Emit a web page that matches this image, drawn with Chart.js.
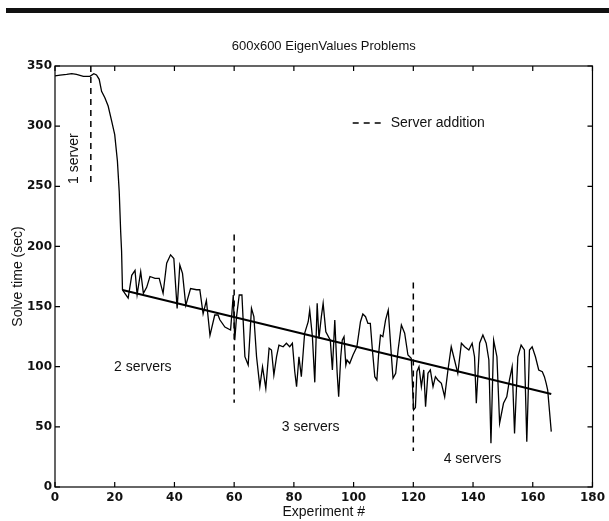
<!DOCTYPE html>
<html><head><meta charset="utf-8">
<script src="https://cdn.jsdelivr.net/npm/chart.js@4.4.1/dist/chart.umd.min.js"></script>
<style>
html,body{margin:0;padding:0;background:#fff;}
#wrap{position:relative;width:609px;height:521px;}
#bar{position:absolute;left:6px;right:0;top:8px;height:5px;background:#111;}
canvas{position:absolute;left:0;top:0;}
</style>
</head><body>
<div id="wrap"><canvas id="c" width="609" height="521"></canvas><div id="bar"></div></div>
<script>
// Experiment number and solve time (sec)
const expX = [0,1.7,3.9,5.6,7.2,9.5,11.7,13,13.9,14.8,15.6,16.7,17.8,19,20,20.9,21.5,22,22.3,22.6,23.4,24.5,25.7,26.8,27.5,28.7,29.6,30.7,31.8,33.5,34.9,36.2,37.4,38.7,39.8,40.9,41.8,42.7,43.8,45.4,47.4,48.5,49.6,50.7,51.9,53.5,54.6,55.2,56.9,58.8,59.7,60.2,60.8,61.7,62.6,63.6,64.7,65.8,66.6,67.5,68.6,69.5,70.6,71.7,72.5,73.3,74.2,75,76.4,77.5,78.6,79.5,80.3,80.9,81.7,82.5,83.6,84.8,85.3,86.2,87,87.8,88.4,89.2,89.8,90.7,92.2,92.9,93.7,94.5,95,95.7,96.2,96.8,97.4,97.8,98.7,99.8,101.1,102.3,103.1,104,104.8,105.6,106.3,107.1,107.8,108.4,109,109.8,110.7,111.6,112.6,113.2,114.1,114.9,116,117.1,118.2,119.3,120.1,120.7,121.2,121.9,122.7,123.5,124.1,124.9,125.7,126.6,127.4,128.2,129.4,130.5,131.6,132.7,133.8,134.9,136.1,137.2,138.6,139.7,140.5,141.1,142.2,143.3,144.4,145.3,146,146.9,148,148.9,150.2,151.3,152.2,153.1,153.9,155,156.1,157.2,158,158.9,159.8,160.9,162,163.2,163.9,164.5,165,166.2];
const solveTime = [341.7,342.5,343,343.6,343,341.4,341.4,343.6,342.5,338.9,329,323.6,316.7,304,293,271,246,212,196,164,161,157,176,180,160,179,161,166,175,173.5,173.5,161,186,193,190,148.5,184.5,177.6,151,165,164,164,144,155,126,143,143,139,133,130.5,159.6,122,141.6,159.6,159.6,108.3,101.4,148.5,141.6,108.3,83.4,100,82,115.3,113.9,93,108.3,118,116.6,119.5,116.6,119.5,95.8,83.4,108.3,91.7,127.8,137.4,147,125,87,152.7,123.6,141.6,152.7,129,122,97.3,138.8,94.5,75,108.3,122,125,101.4,105.6,102.8,109.7,116.6,137.4,143.8,141.6,136,136,113.9,91.7,89,111,126.3,125,138.8,147,111,90.4,94.5,113.9,134.7,127.8,109.7,107,64,66,95.8,100,83.4,97.3,66.7,94.5,97.3,83.4,91.7,89,86.2,75,97.3,116.6,105.6,94.5,119.5,116.6,113.9,119.5,108.3,69.6,119.5,126.3,119.5,105.6,36.3,122,108.3,53,69.6,75,89,100,44.6,108.3,118,113.9,37.6,113.9,116.6,108.3,97.3,95.8,91.7,86.2,80.6,46];
// Linear trend line
const fitX = [22.6, 166.2];
const fitY = [163.8, 77.3];
// Server additions (vertical dashed markers)
const serverAddX = [12, 60, 120];
const serverAddTop = [350, 210, 170];
const serverAddBottom = [250, 70, 30];
// Axis ticks
const xTicks = [0,20,40,60,80,100,120,140,160,180];
const yTicks = [0,50,100,150,200,250,300,350];
// Region labels
const regionLabels = ['1 server','2 servers','3 servers','4 servers'];
const regionX = [6.4, 29.4, 85.6, 139.8];
const regionY = [273, 100, 50, 23];
const chartTitle = '600x600 EigenValues Problems';

const datasets = [
  {label:'Solve time', data: expX.map((x,i)=>({x, y: solveTime[i]})), borderColor:'#000', borderWidth:1.3, pointRadius:0, fill:false, tension:0},
  {label:'Trend', data: fitX.map((x,i)=>({x, y: fitY[i]})), borderColor:'#000', borderWidth:2, pointRadius:0, fill:false}
];
serverAddX.forEach((x,i)=>{
  datasets.push({label:'Server addition', data:[{x, y: serverAddTop[i]},{x, y: serverAddBottom[i]}], borderColor:'#000', borderWidth:1.5, borderDash:[6,5], pointRadius:0, fill:false});
});

const FAM = '"Liberation Sans", Arial, sans-serif';
const txtFont = '14px ' + FAM;

const decor = {
  id:'decor',
  afterDatasetsDraw(chart){
    const {ctx, chartArea:{left,right,top,bottom}, scales:{x,y}} = chart;
    ctx.save();
    ctx.strokeStyle='#000'; ctx.lineWidth=1.2;
    ctx.strokeRect(left, top, right-left, bottom-top);
    ctx.beginPath();
    xTicks.forEach(v=>{const p=x.getPixelForValue(v); ctx.moveTo(p,bottom); ctx.lineTo(p,bottom-5); ctx.moveTo(p,top); ctx.lineTo(p,top+5);});
    yTicks.forEach(v=>{const p=y.getPixelForValue(v); ctx.moveTo(left,p); ctx.lineTo(left+5,p); ctx.moveTo(right,p); ctx.lineTo(right-5,p);});
    ctx.stroke();
    ctx.fillStyle='#111'; ctx.textAlign='center'; ctx.textBaseline='middle';
    // title centred over the plot box
    ctx.font='13px ' + FAM;
    ctx.fillText(chartTitle, (left+right)/2, top-20);
    ctx.font=txtFont;
    regionLabels.forEach((t,i)=>{
      const px=x.getPixelForValue(regionX[i]), py=y.getPixelForValue(regionY[i]);
      if(i===0){ ctx.save(); ctx.translate(px,py); ctx.rotate(-Math.PI/2); ctx.fillText(t,0,0); ctx.restore(); }
      else ctx.fillText(t,px,py);
    });
    // legend inside plot
    const lx=x.getPixelForValue(99.7), ly=y.getPixelForValue(302.6);
    ctx.beginPath(); ctx.setLineDash([6,5]); ctx.lineWidth=1.5;
    ctx.moveTo(lx,ly); ctx.lineTo(lx+29,ly); ctx.stroke(); ctx.setLineDash([]);
    ctx.textAlign='left'; ctx.fillText('Server addition', lx+38, ly);
    ctx.restore();
  }
};

new Chart(document.getElementById('c'), {
  type:'line',
  data:{datasets},
  options:{
    responsive:false, animation:false,
    layout:{padding:{left:0,right:16,top:66,bottom:0}},
    plugins:{ legend:{display:false}, tooltip:{enabled:false}, title:{display:false} },
    scales:{
      x:{type:'linear', min:0, max:180,
        afterBuildTicks:s=>{s.ticks=xTicks.map(v=>({value:v}));},
        afterFit:s=>{s.height=34;},
        grid:{display:false, drawTicks:false}, border:{display:false},
        ticks:{color:'#111', padding:4, maxRotation:0, font:{family:'"DejaVu Sans", sans-serif', size:12, weight:'bold'}},
        title:{display:true, text:'Experiment #', color:'#111', padding:{top:0,bottom:0}, font:{family:FAM, size:14}}
      },
      y:{type:'linear', min:0, max:350,
        afterBuildTicks:s=>{s.ticks=yTicks.map(v=>({value:v}));},
        afterFit:s=>{s.width=55;},
        grid:{display:false, drawTicks:false}, border:{display:false},
        ticks:{color:'#111', padding:3, font:{family:'"DejaVu Sans", sans-serif', size:12, weight:'bold'}},
        title:{display:true, text:'Solve time (sec)', color:'#111', padding:{top:10,bottom:0}, font:{family:FAM, size:14}}
      }
    }
  },
  plugins:[decor]
});
</script>
</body></html>
